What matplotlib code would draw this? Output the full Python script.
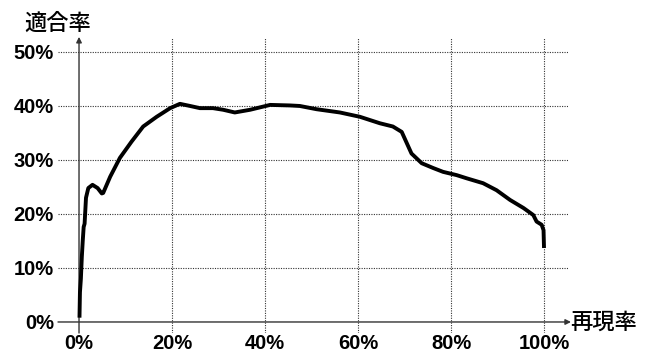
import matplotlib
matplotlib.use("Agg")
import matplotlib.pyplot as plt

# Recall (%) and precision (%)
recall = [0.1, 0.2, 0.4, 0.6, 0.8, 1.0, 1.2, 1.5, 2.0, 2.9, 4.0, 4.9, 5.2, 6.7, 8.8, 11.3,
          13.8, 16.7, 19.6, 21.7, 23.9, 26.0, 28.8, 31.0, 33.5, 36.8, 41.1, 45.4, 47.5,
          51.1, 56.1, 60.4, 64.7, 67.5, 69.4, 70.5, 71.5, 73.7, 76.2, 78.3, 81.2, 83.4,
          86.9, 89.8, 92.7, 95.6, 97.7, 98.4, 99.5, 99.9, 100.0]
precision = [0.8, 5.5, 8.0, 12.0, 15.0, 17.6, 18.2, 23.0, 24.8, 25.4, 24.8, 23.8, 23.9, 26.9,
             30.4, 33.4, 36.2, 38.0, 39.6, 40.4, 40.0, 39.6, 39.6, 39.3, 38.8, 39.3, 40.2,
             40.1, 40.0, 39.4, 38.8, 38.0, 36.8, 36.2, 35.2, 33.1, 31.2, 29.4, 28.5, 27.8,
             27.2, 26.6, 25.7, 24.4, 22.6, 21.1, 19.8, 18.6, 18.0, 17.0, 13.7]

x_ticks = [0, 20, 40, 60, 80, 100]
y_ticks = [0, 10, 20, 30, 40, 50]
x_tick_labels = ["0%", "20%", "40%", "60%", "80%", "100%"]
y_tick_labels = ["0%", "10%", "20%", "30%", "40%", "50%"]
x_label = "再現率"
y_label = "適合率"

W, H = 656, 353
fig = plt.figure(figsize=(W / 100, H / 100), dpi=100)
ax = fig.add_axes([58 / W, 20 / H, 510 / W, 295 / H])
ax.set_xlim(-4.52, 105.16)
ax.set_ylim(-2.04, 52.59)
for s in ax.spines.values():
    s.set_visible(False)

tick_font = dict(family=["Liberation Sans", "DejaVu Sans"], weight="bold", size=14.5)

# grid
for yv in y_ticks[1:]:
    ax.axhline(yv, color="#333333", lw=0.8, ls=(0, (1, 1.2)), zorder=1)
for xv in x_ticks[1:]:
    ax.axvline(xv, color="#333333", lw=0.8, ls=(0, (1, 1.2)), zorder=1)

# axes with arrows
ax.annotate("", xy=(105.8, 0), xytext=(-4.52, 0),
            arrowprops=dict(arrowstyle="-|>", color="#333333", lw=1.0,
                            mutation_scale=8, shrinkA=0, shrinkB=0),
            annotation_clip=False, zorder=2)
ax.annotate("", xy=(0, 52.8), xytext=(0, -2.04),
            arrowprops=dict(arrowstyle="-|>", color="#333333", lw=1.0,
                            mutation_scale=8, shrinkA=0, shrinkB=0),
            annotation_clip=False, zorder=2)

ax.plot(recall, precision, color="black", lw=2.8, solid_joinstyle="round",
        solid_capstyle="butt", zorder=3)

ax.set_xticks(x_ticks)
ax.set_xticklabels(x_tick_labels, **tick_font)
ax.set_yticks(y_ticks)
ax.set_yticklabels(y_tick_labels, **tick_font)
ax.tick_params(axis="both", length=0)
ax.tick_params(axis="x", pad=1)
ax.tick_params(axis="y", pad=3)

cjk = ["Noto Sans CJK JP", "DejaVu Sans"]
fig.text(57.5 / W, 1 - 23 / H, y_label, ha="center", va="center",
         family=cjk, size=16, weight="medium")
fig.text(570 / W, 1 - 322 / H, x_label, ha="left", va="center",
         family=cjk, size=16, weight="medium")

fig.savefig("out.png", dpi=100)
